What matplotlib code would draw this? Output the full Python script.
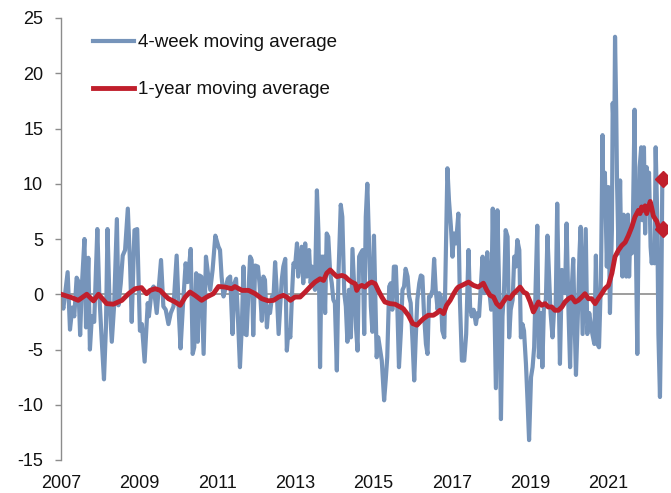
import matplotlib
matplotlib.use('Agg')
import matplotlib.pyplot as plt

# ---- data (decimal years) ----
blue_t = [
    2007.00, 2007.06, 2007.17, 2007.23, 2007.29, 2007.34, 2007.40, 2007.44, 2007.49, 2007.53,
    2007.60, 2007.64, 2007.70, 2007.74, 2007.79, 2007.85, 2007.93, 2007.98, 2008.04, 2008.10,
    2008.15, 2008.19, 2008.24, 2008.30, 2008.36, 2008.43, 2008.47, 2008.53, 2008.58, 2008.64,
    2008.71, 2008.77, 2008.81, 2008.88,
    2008.95, 2009.02, 2009.07, 2009.14, 2009.22, 2009.25, 2009.32, 2009.37, 2009.45, 2009.56,
    2009.62, 2009.68, 2009.75, 2009.81, 2009.88, 2009.96, 2010.02, 2010.06, 2010.12, 2010.19,
    2010.24, 2010.32, 2010.37, 2010.41, 2010.46, 2010.50, 2010.54, 2010.59, 2010.65, 2010.71,
    2010.76, 2010.82, 2010.88, 2010.95,
    2011.03, 2011.07, 2011.11, 2011.16, 2011.20, 2011.27, 2011.33, 2011.39, 2011.44, 2011.48,
    2011.52, 2011.58, 2011.63, 2011.67, 2011.71, 2011.75, 2011.80, 2011.84, 2011.88, 2011.92,
    2011.97, 2012.04, 2012.08, 2012.14, 2012.18, 2012.22, 2012.27, 2012.31, 2012.35, 2012.40,
    2012.44, 2012.48, 2012.52, 2012.57, 2012.61, 2012.65, 2012.69, 2012.74, 2012.78, 2012.82,
    2012.87, 2012.91, 2012.95, 2012.99, 2013.04,
    2013.07, 2013.12, 2013.16, 2013.20, 2013.25, 2013.29, 2013.35, 2013.39, 2013.43, 2013.50,
    2013.55, 2013.59, 2013.63, 2013.67, 2013.72, 2013.76, 2013.80, 2013.84, 2013.89, 2013.93,
    2013.97, 2014.01, 2014.06, 2014.10, 2014.16, 2014.20, 2014.25, 2014.29, 2014.33, 2014.37,
    2014.42, 2014.46, 2014.50, 2014.55, 2014.59, 2014.63, 2014.67, 2014.72, 2014.76, 2014.80,
    2014.84, 2014.89, 2014.93, 2014.97, 2015.01,
    2015.08, 2015.12, 2015.17, 2015.21, 2015.27, 2015.31, 2015.35, 2015.40, 2015.44, 2015.48,
    2015.52, 2015.57, 2015.61, 2015.65, 2015.70, 2015.74, 2015.78, 2015.82, 2015.87, 2015.91,
    2015.95, 2016.00, 2016.04, 2016.08, 2016.12, 2016.17, 2016.21, 2016.25, 2016.29, 2016.34,
    2016.38, 2016.42, 2016.46, 2016.51, 2016.55, 2016.59, 2016.64, 2016.68, 2016.72, 2016.76,
    2016.81, 2016.85, 2016.89, 2016.93, 2016.98, 2017.02, 2017.06, 2017.11,
    2017.17, 2017.21, 2017.26, 2017.32, 2017.37, 2017.43, 2017.47, 2017.51, 2017.56, 2017.62,
    2017.66, 2017.70, 2017.75, 2017.79, 2017.83, 2017.87, 2017.91, 2017.96, 2018.01, 2018.05,
    2018.09, 2018.13, 2018.17, 2018.21, 2018.26, 2018.30, 2018.34, 2018.38, 2018.43, 2018.47,
    2018.51, 2018.56, 2018.60, 2018.64, 2018.68, 2018.73, 2018.77, 2018.81, 2018.85, 2018.90,
    2018.94, 2018.98, 2019.03, 2019.07, 2019.11, 2019.15, 2019.19,
    2019.23, 2019.29, 2019.32, 2019.36, 2019.41, 2019.45, 2019.49, 2019.53, 2019.58, 2019.62,
    2019.66, 2019.70, 2019.73, 2019.77, 2019.82, 2019.86, 2019.90, 2019.94, 2019.99, 2020.03,
    2020.07, 2020.11, 2020.14, 2020.18, 2020.23, 2020.27, 2020.30, 2020.35, 2020.39, 2020.43,
    2020.47, 2020.52, 2020.56, 2020.60, 2020.65, 2020.69, 2020.73, 2020.77, 2020.82,
    2020.86, 2020.88, 2020.92, 2020.97, 2021.01, 2021.05, 2021.10, 2021.12, 2021.16, 2021.18,
    2021.21, 2021.23, 2021.27, 2021.31, 2021.33, 2021.37, 2021.40, 2021.44, 2021.47, 2021.51,
    2021.54, 2021.57, 2021.61, 2021.64, 2021.68, 2021.71, 2021.75, 2021.78, 2021.81, 2021.85,
    2021.88, 2021.92, 2021.95, 2021.99, 2022.02, 2022.05, 2022.09, 2022.12, 2022.15, 2022.19,
    2022.22, 2022.26, 2022.29, 2022.33, 2022.36, 2022.39, 2022.42,
]
blue_v = [
    -0.2, -1.3, 2.0, -3.2, -1.2, -2.0, 1.5, 1.2, -3.7, 0.5,
    5.0, -3.0, 3.3, -5.0, -2.0, -2.5, 5.9, 0.0, -4.0, -7.7,
    -3.0, 5.9, -0.5, -4.3, -1.0, 6.8, -1.0, 1.0, 3.5, 4.0,
    7.75, 2.5, -2.5, 5.8,
    5.9, -3.3, -2.7, -6.1, -0.8, -2.0, 0.4, 0.7, -1.7, 3.1,
    -1.1, -1.4, -2.7, -1.7, -1.1, 3.5, -2.0, -4.9, -1.1, 2.8,
    1.1, 4.1, -5.4, -4.8, 1.9, -4.3, 1.7, 1.6, -5.4, 3.4,
    1.9, 0.4, 2.2, 5.3,
    4.3, 4.0, 1.6, -0.2, 0.4, 1.4, 1.6, -3.6, 1.0, 1.4,
    -1.4, -6.6, -2.7, 2.5, -3.6, -3.7, 0.4, 3.4, 3.1, -3.7,
    2.6, 2.5, 1.0, -2.4, 1.6, 1.3, -3.0, -1.1, -1.7, -0.2,
    -0.2, 2.9, 0.4, -3.6, -1.1, 1.3, 2.5, 3.2, -5.1, -3.3,
    -3.9, -0.2, 2.8, 2.5, 4.6,
    1.6, 3.1, 4.3, 1.0, 4.6, 1.6, 4.0, 1.0, 2.5, 0.4,
    9.4, 5.5, -6.6, 3.4, 3.4, -1.7, 5.5, 5.2, 1.9, 1.0,
    -0.5, -0.8, -6.9, 1.6, 8.1, 7.0, 0.1, -1.1, -4.3, 0.4,
    -3.9, 4.1, 1.0, -3.0, -5.1, 3.4, 3.7, 4.0, -3.6, 7.0,
    10.0, 4.0, -1.1, -3.4, 5.3,
    -5.7, -3.9, -5.1, -6.0, -9.6, -7.8, -5.7, 0.7, 1.0, -1.4,
    2.5, 2.5, -1.4, -6.6, -3.3, 0.4, 0.7, 2.3, 1.6, -0.2,
    -0.8, -4.5, -7.8, -3.9, -0.5, 1.0, 1.7, 1.6, -1.7, -4.5,
    -5.4, -0.2, -0.2, 0.4, 3.2, 0.4, -1.4, 0.1, -0.2, -3.3,
    -3.9, 4.0, 11.4, 8.5, 6.1, 3.4, 5.5, 4.6,
    7.3, -0.6, -6.0, -6.0, -3.6, 4.0, -1.1, -2.0, -1.4, -2.7,
    -1.7, -2.0, 1.0, 3.4, 0.1, 1.6, 3.8, 0.4, -1.4, 7.75,
    -0.5, -8.5, 7.6, 1.0, -11.3, -2.0, 0.4, 5.8, 5.2, -3.9,
    -1.4, -0.5, 3.4, 2.5, 4.9, 4.0, -3.9, -2.7, -3.3, -6.3,
    -9.6, -13.2, -7.5, -6.6, -4.8, 1.0, 6.2,
    -5.7, -1.7, -6.6, -1.1, -0.5, 5.3, 1.9, -1.7, -3.9, -1.4,
    -1.4, 8.2, 1.9, -6.3, 2.2, 0.7, 0.1, 6.4, -1.7, -6.6,
    0.4, 3.2, -1.7, -7.3, -1.7, 3.7, 6.1, -3.6, 1.3, 5.9,
    -3.6, -1.7, -2.7, -3.6, -4.5, 3.5, -4.5, -4.8, 1.5,
    14.4, 8.5, 11.0, 2.5, 9.7, -1.7, 5.8, 17.3, 13.6, 23.3,
    16.7, 10.3, 3.7, 10.3, 5.5, 1.6, 7.2, 5.5, 1.6, 7.2,
    1.6, 5.5, 3.7, 7.2, 16.7, 5.5, -5.4, 5.5, 11.5, 13.3,
    6.7, 13.3, 5.5, 11.5, 9.7, 11.0, 4.3, 2.8, 4.3, 2.8,
    13.3, 7.0, -3.6, -9.3, -2.0, 10.3, 10.4,
]

red_t = [
    2007.00, 2007.27, 2007.44, 2007.66, 2007.83, 2007.96, 2008.17, 2008.34, 2008.56, 2008.73,
    2008.90, 2009.06, 2009.19, 2009.28, 2009.41, 2009.54, 2009.66, 2009.75, 2009.92, 2010.05,
    2010.18, 2010.30, 2010.43, 2010.60, 2010.73, 2010.90, 2011.03, 2011.20, 2011.37, 2011.45,
    2011.63, 2011.80, 2011.97, 2012.14, 2012.31, 2012.44, 2012.57, 2012.69, 2012.78, 2012.87,
    2012.99, 2013.12, 2013.25, 2013.37, 2013.50, 2013.63, 2013.72, 2013.80, 2013.89, 2013.97,
    2014.06, 2014.19, 2014.27, 2014.36, 2014.44, 2014.53, 2014.57, 2014.61, 2014.70, 2014.78,
    2014.87, 2014.95, 2015.04, 2015.12, 2015.21, 2015.29, 2015.42, 2015.55, 2015.68, 2015.76,
    2015.89, 2016.00, 2016.11, 2016.19, 2016.28, 2016.40, 2016.53, 2016.62, 2016.70, 2016.79,
    2016.87, 2016.96, 2017.05, 2017.13, 2017.17, 2017.26, 2017.43, 2017.56, 2017.68, 2017.81,
    2017.90, 2017.98, 2018.07, 2018.15, 2018.24, 2018.32, 2018.41, 2018.49, 2018.58, 2018.67,
    2018.75, 2018.84, 2018.92, 2019.01, 2019.09, 2019.22, 2019.30, 2019.39, 2019.47, 2019.56,
    2019.64, 2019.73, 2019.82, 2019.90, 2019.99, 2020.07, 2020.16, 2020.24, 2020.33, 2020.41,
    2020.50, 2020.58, 2020.67, 2020.75, 2020.84, 2020.92, 2021.01, 2021.10, 2021.18, 2021.27,
    2021.35, 2021.44, 2021.52, 2021.61, 2021.69, 2021.78, 2021.82, 2021.86, 2021.91, 2021.95,
    2021.99, 2022.04, 2022.08, 2022.12, 2022.16, 2022.21, 2022.25, 2022.29, 2022.33, 2022.38,
    2022.42,
]
red_v = [
    0.0, -0.3, -0.55, 0.0, -0.6, 0.0, -0.85, -0.9, -0.55, 0.05,
    0.5, 0.6, 0.05, 0.35, 0.5, 0.35, -0.1, -0.4, -0.7, -1.0,
    -0.25, 0.2, -0.1, -0.55, -0.25, 0.05, 0.7, 0.65, 0.5, 0.7,
    0.35, 0.35, 0.05, -0.4, -0.6, -0.55, -0.25, -0.1, -0.25, -0.55,
    -0.25, -0.25, 0.2, 0.65, 1.1, 1.4, 1.25, 1.9, 2.2, 1.9,
    1.6, 1.7, 1.6, 1.3, 1.1, 0.95, 0.35, 0.65, 0.8, 0.65,
    0.95, 1.1, 0.95, 0.35, -0.25, -0.7, -0.85, -0.9, -1.15, -1.3,
    -1.9, -2.65, -2.8, -2.5, -2.2, -1.9, -1.9, -1.7, -1.45, -1.75,
    -1.0, -0.55, 0.05, 0.5, 0.65, 0.8, 1.1, 0.8, 0.65, 1.0,
    0.35, -0.1, -0.25, -0.85, -1.15, -0.7, -0.25, -0.4, 0.05, 0.35,
    0.65, 0.2, 0.05, -0.7, -1.6, -0.7, -1.0, -0.85, -1.15, -1.15,
    -1.45, -1.45, -1.15, -0.7, -0.4, -0.25, -0.7, -0.55, -0.25, 0.05,
    -0.4, -0.4, -0.85, -0.4, 0.05, 0.5, 0.8, 1.9, 3.4, 4.0,
    4.4, 4.7, 5.3, 6.1, 7.0, 7.6, 7.3, 7.9, 7.6, 8.0,
    7.3, 7.9, 8.4, 7.8, 7.1, 6.8, 6.6, 6.1, 5.8, 5.8,
    5.9,
]

series_labels = ['4-week moving average', '1-year moving average']
ytick_vals = [-15, -10, -5, 0, 5, 10, 15, 20, 25]
xtick_years = [2007, 2009, 2011, 2013, 2015, 2017, 2019, 2021]
xtick_labels = [str(y) for y in xtick_years]

BLUE = '#7694BA'
RED = '#C01F2C'
GRAY = '#8C8C8C'

plt.rcParams['font.family'] = ['Liberation Sans', 'DejaVu Sans']

fig = plt.figure(figsize=(6.71, 4.93), dpi=100)
ax = fig.add_axes([61 / 671, 1 - 460 / 493, (667 - 61) / 671, (460 - 18) / 493])

ax.hlines(0, blue_t[0], blue_t[-1], color=GRAY, lw=1.2, zorder=1)
ax.plot(blue_t, blue_v, color=BLUE, lw=3.0, solid_joinstyle='round', zorder=2,
        label=series_labels[0])
ax.plot(red_t, red_v, color=RED, lw=3.5, solid_joinstyle='round', zorder=3,
        label=series_labels[1])
ax.plot(blue_t[-1:], blue_v[-1:], linestyle='none', marker='D', ms=8.5, color=RED, zorder=4)
ax.plot(red_t[-1:], red_v[-1:], linestyle='none', marker='D', ms=8.5, color=RED, zorder=4)

ax.set_xlim(2007, 2022.51)
ax.set_ylim(-15, 25)
ax.set_yticks(ytick_vals)
ax.set_yticklabels([str(v) for v in ytick_vals])
ax.set_xticks(xtick_years)
ax.set_xticklabels(xtick_labels)

for s in ['top', 'right', 'bottom']:
    ax.spines[s].set_visible(False)
ax.spines['left'].set_color(GRAY)
ax.spines['left'].set_linewidth(1.0)

ax.tick_params(axis='y', direction='out', length=4.3, width=1.0, color=GRAY,
               labelsize=13, pad=8.5, labelcolor='#111111')
ax.tick_params(axis='x', length=0, labelsize=13, pad=11, labelcolor='#111111')

leg = ax.legend(loc='upper left', bbox_to_anchor=(93 / 671, 1 - 34 / 493),
                bbox_transform=fig.transFigure, frameon=False, fontsize=13.5,
                handlelength=2.2, handletextpad=0.2, labelspacing=1.6,
                borderpad=0, borderaxespad=0)
for t in leg.get_texts():
    t.set_color('#111111')

fig.savefig('out.png', dpi=100)
